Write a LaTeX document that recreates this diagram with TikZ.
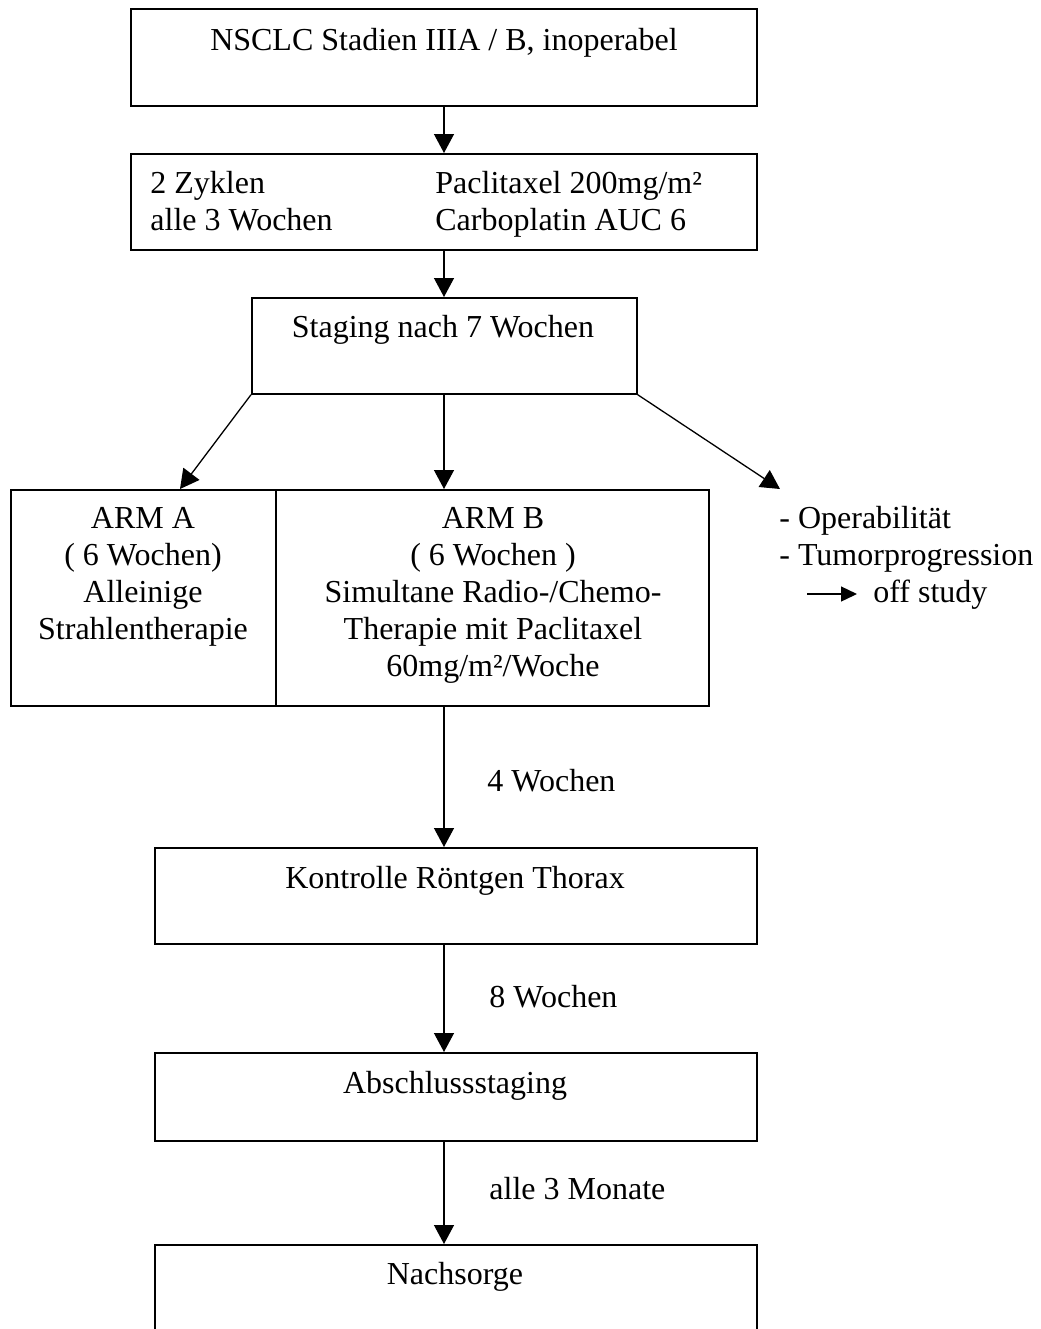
\documentclass[tikz,border=0pt]{standalone}
\usepackage{fontspec}
\setmainfont{Liberation Serif}
\usetikzlibrary{arrows.meta}
\begin{document}
\begin{tikzpicture}[x=0.5pt,y=-0.5pt,
  box/.style={draw, line width=0.85pt, rectangle, inner sep=0, anchor=north west},
  txt/.style={font=\fontsize{16}{18.5}\selectfont, inner sep=0},
  arr/.style={line width=0.65pt, -{Triangle[length=9.5pt,width=10pt]}},
]
\useasboundingbox (0,0) rectangle (1040,1329);
\coordinate (axis) at (444,0);
\coordinate (tipA) at (180,0);
% boxes
\node[box, minimum width=313pt, minimum height=48.5pt] (top) at (130,8) {};
\node[box, minimum width=313pt, minimum height=48pt] (zyk) at (130,153) {};
\node[box, minimum width=192.5pt, minimum height=48pt] (stag) at (251,297) {};
\node[box, minimum width=132.5pt, minimum height=108pt] (armA) at (10,489) {};
\node[box, minimum width=216.5pt, minimum height=108pt] (armB) at (275,489) {};
\node[box, minimum width=301pt, minimum height=48pt] (kon) at (154,847) {};
\node[box, minimum width=301pt, minimum height=44pt] (abs) at (154,1052) {};
\node[box, minimum width=301pt, minimum height=55pt] (nach) at (154,1244) {};
% texts (multi-line nodes anchored at the baseline of their last line)
\node[txt, anchor=base] (ttop) at (444,50) {NSCLC Stadien IIIA / B, inoperabel};
\node[txt, anchor=base west, align=left] (zl) at (150,230) {2 Zyklen\\alle 3 Wochen};
\node[txt, anchor=base west, align=left] (zr) at (435,230) {Paclitaxel 200mg/m²\\Carboplatin AUC 6};
\node[txt, anchor=base] (tstag) at (443,337) {Staging nach 7 Wochen};
\node[txt, anchor=base, align=center] (ta) at (143,639) {ARM A\\( 6 Wochen)\\Alleinige\\Strahlentherapie};
\node[txt, anchor=base, align=center] (tb) at (493,676) {ARM B\\( 6 Wochen )\\Simultane Radio-/Chemo-\\Therapie mit Paclitaxel\\60mg/m²/Woche};
\node[txt, anchor=base west, align=left] (off) at (779,565) {- Operabilität\\- Tumorprogression};
\node[txt, anchor=base west] (study) at (873,602) {off study};
\node[txt, anchor=base] (tkon) at (455,888) {Kontrolle Röntgen Thorax};
\node[txt, anchor=base] (tabs) at (455,1093) {Abschlussstaging};
\node[txt, anchor=base] (tnach) at (455,1284) {Nachsorge};
\node[txt, anchor=base west] (l4) at (487,791) {4 Wochen};
\node[txt, anchor=base west] (l8) at (489,1007) {8 Wochen};
\node[txt, anchor=base west] (l3) at (489,1199) {alle 3 Monate};
% connectors
\coordinate (oTip) at (780,489);
\coordinate (offarr) at (807,594);
\coordinate (offend) at (857,594);
\draw[arr] (top.south -| axis) -- (zyk.north -| axis);
\draw[arr] (zyk.south -| axis) -- (stag.north -| axis);
\draw[arr] (stag.south -| axis) -- (armB.north -| axis);
\draw[arr] (stag.south west) -- (armA.north -| tipA);
\draw[arr] (stag.south east) -- (oTip);
\draw[arr] (armB.south -| axis) -- (kon.north -| axis);
\draw[arr] (kon.south -| axis) -- (abs.north -| axis);
\draw[arr] (abs.south -| axis) -- (nach.north -| axis);
\draw[line width=0.65pt, -{Triangle[length=8pt,width=7.5pt]}] (offarr) -- (offend);
\end{tikzpicture}
\end{document}
